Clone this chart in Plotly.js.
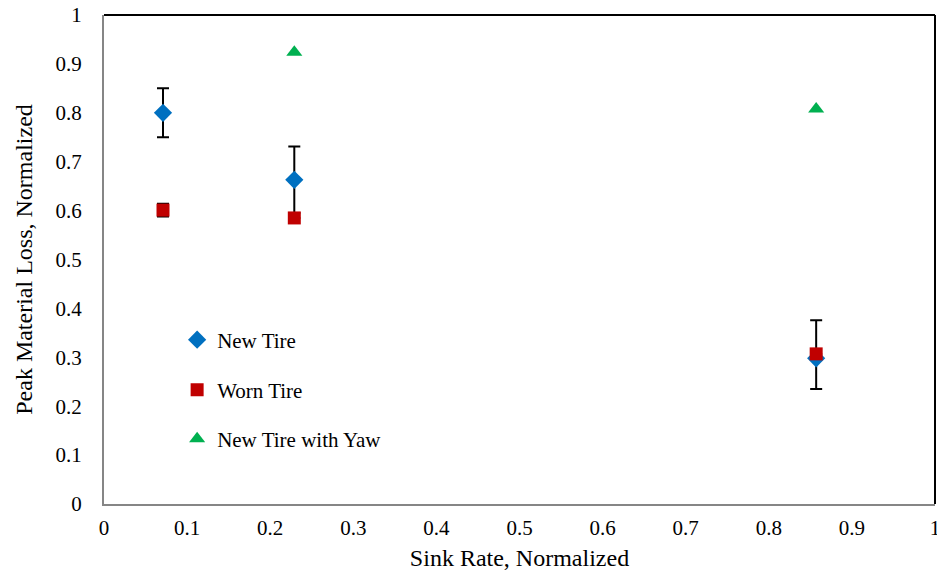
<!DOCTYPE html>
<html>
<head>
<meta charset="utf-8">
<script src="https://cdn.plot.ly/plotly-3.0.1.min.js"></script>
<style>html,body{margin:0;padding:0;background:#fff;}#chart{width:937px;height:575px;}</style>
</head>
<body>
<div id="chart"></div>
<script>
// Data
const sinkRate = [0.071, 0.229, 0.857];
const newTire = [0.800, 0.663, 0.298];
const newTireErrPlus = [0.050, 0.068, 0.078];
const newTireErrMinus = [0.050, 0.068, 0.063];
const wornTire = [0.601, 0.585, 0.307];
const wornTireErr = [0.013, 0, 0];
const yawX = [0.229, 0.857];
const newTireYaw = [0.924, 0.808];
const seriesNames = ['New Tire', 'Worn Tire', 'New Tire with Yaw'];

const font = "'Liberation Serif', 'Times New Roman', serif";

const traces = [
  {
    x: sinkRate, y: newTire, name: seriesNames[0], type: 'scatter', mode: 'markers',
    marker: {symbol: 'diamond', size: 14, color: '#0070C0'},
    error_y: {type: 'data', symmetric: false, array: newTireErrPlus, arrayminus: newTireErrMinus,
              color: '#000', thickness: 2, width: 6},
    legend: 'legend'
  },
  {
    x: sinkRate, y: wornTire, name: seriesNames[1], type: 'scatter', mode: 'markers',
    marker: {symbol: 'square', size: 13, color: '#C00000'},
    error_y: {type: 'data', array: wornTireErr, color: '#000', thickness: 2, width: 6},
    legend: 'legend2'
  },
  {
    x: yawX, y: newTireYaw, name: seriesNames[2], type: 'scatter', mode: 'markers',
    marker: {symbol: 'triangle-up', size: 14, color: '#00B050'},
    legend: 'legend3'
  }
];

const legendBase = {
  font: {family: font, size: 21, color: '#000'},
  bgcolor: 'rgba(0,0,0,0)', borderwidth: 0,
  xanchor: 'left', yanchor: 'middle', itemwidth: 30, x: 0.088
};

const layout = {
  width: 937, height: 575,
  margin: {l: 104, r: 2, t: 15, b: 71},
  paper_bgcolor: '#fff', plot_bgcolor: '#fff',
  font: {family: font, size: 21, color: '#000'},
  showlegend: true,
  legend: Object.assign({}, legendBase, {y: (504 - 340) / 489}),
  legend2: Object.assign({}, legendBase, {y: (504 - 390) / 489}),
  legend3: Object.assign({}, legendBase, {y: (504 - 439) / 489}),
  xaxis: {
    range: [0, 1], dtick: 0.1, tick0: 0, showgrid: false, zeroline: false,
    showline: true, linecolor: '#868686', linewidth: 2, ticks: '',
    tickfont: {family: font, size: 21, color: '#000'},
    ticklabelstandoff: 4, ticklabeloverflow: 'allow',
    title: {text: 'Sink Rate, Normalized', font: {family: font, size: 24, color: '#000'}, standoff: 10}
  },
  yaxis: {
    range: [0, 1], dtick: 0.1, tick0: 0, showgrid: false, zeroline: false,
    showline: true, linecolor: '#868686', linewidth: 2, ticks: '',
    tickfont: {family: font, size: 21, color: '#000'},
    ticklabelstandoff: 16, ticklabeloverflow: 'allow',
    title: {text: 'Peak Material Loss, Normalized', font: {family: font, size: 24, color: '#000'}, standoff: 16}
  },
  shapes: [
    {type: 'line', xref: 'paper', yref: 'paper', x0: 0, x1: 1, y0: 1, y1: 1, line: {color: '#000', width: 2}},
    {type: 'line', xref: 'paper', yref: 'paper', x0: 1, x1: 1, y0: 0, y1: 1, line: {color: '#000', width: 2}}
  ]
};

Plotly.newPlot('chart', traces, layout, {displayModeBar: false, staticPlot: true});
</script>
</body>
</html>
